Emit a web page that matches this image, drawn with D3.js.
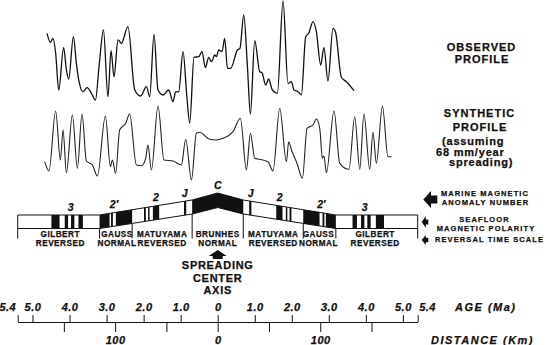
<!DOCTYPE html>
<html>
<head>
<meta charset="utf-8">
<script src="https://cdn.jsdelivr.net/npm/d3@7"></script>
<style>
  body { margin: 0; background: #fff; }
  svg { display: block; font-family: "Liberation Sans", Arial, sans-serif; }
  text { fill: #111; stroke: #111; stroke-width: 0.25; }
</style>
</head>
<body>
<svg id="chart" width="549" height="345"></svg>
<script>
// observed anomaly profile: [distance km, relative amplitude]
const observed = [
  [-166.4, 26.7], [-163.1, 17.7], [-160.6, 21.7], [-158.0, 7], [-155.0, -30], [-150.2, 12.3],
  [-147.5, -10], [-145.3, -19], [-140.7, 23.3], [-137.8, -3.3], [-135.2, -21.7], [-131.3, -31.7],
  [-127.4, -27.7], [-123.1, -33.3], [-119.2, -40], [-115.7, -6.7], [-111.4, 30], [-107.0, -36.7],
  [-104.0, 9.3], [-101.1, -16.7], [-97.2, 20], [-93.9, 16.7], [-87.5, 33.3], [-80.9, -30],
  [-75.1, -36], [-69.5, -26.7], [-66.3, -36.7], [-62.1, 25.7], [-58.2, -30], [-53.3, -35],
  [-47.8, -30], [-43.6, -41.7], [-41.0, -32], [-38.0, -31.7], [-33.8, 8.3], [-30.2, -35],
  [-27.3, -63], [-23.1, 2.7], [-18.5, 3.3], [-15.3, 8.3], [-12.0, -7.7], [-8.8, 2.7],
  [-6.1, -1.7], [-2.9, 5], [-1.3, 3.3], [1.0, 10], [4.2, 8.3], [6.8, 21.7], [9.5, -8.3],
  [12.7, -8.3], [19.2, 10], [21.7, 11.7], [25.4, 45], [29.0, -6.7], [31.9, -54], [36.1, 19.3],
  [41.0, -11.7], [43.2, -12.7], [46.8, -25], [49.7, -19], [53.3, -30], [58.2, -33.3],
  [63.7, 59], [68.5, -23.3], [71.9, -21.7], [74.4, -30], [78.3, -31.7], [81.6, -35],
  [85.8, 23.3], [88.7, 26.7], [92.9, 38.3], [96.2, 28.3], [100.4, -5], [103.6, 12.3],
  [107.5, -21], [112.4, 31.7], [114.8, 28.3], [120.6, -17.3], [125.5, -21.7], [132.9, -30.7]
];

// synthetic profile (68 mm/yr): [distance km, relative amplitude]
const synthetic = [
  [-168.7, -18.7], [-164.5, -28], [-158.0, 32], [-153.4, -17], [-150.8, 13], [-147.5, -29.7],
  [-141.7, 28], [-136.8, -25.3], [-132.3, 29], [-128.0, -18], [-122.2, -22], [-117.3, -33],
  [-109.5, 27], [-104.6, -23.7], [-102.7, -17], [-99.5, -30.3], [-95.6, 13], [-89.7, 19.7],
  [-85.8, 29], [-79.3, -22], [-74.4, -22.7], [-70.2, -15.3], [-68.0, -2], [-64.6, -27],
  [-58.2, 37], [-52.4, -17], [-43.6, -18], [-35.4, -22], [-31.2, 3.7], [-25.6, -37],
  [-20.8, 9.7], [-17.6, 10.7], [-7.8, 3.7], [-1.3, 3], [5.2, 4.7], [14.9, 11.3], [22.1, 24.7],
  [28.0, -27], [31.9, 9.7], [36.1, -15.3], [41.0, -16.3], [49.0, -18.7], [53.9, -28],
  [60.5, 34.7], [67.0, -18.7], [69.2, 1.3], [71.9, -7], [77.3, -20.3], [82.6, -35.3],
  [87.1, 14.7], [92.9, 18], [96.2, 24], [99.5, 14.7], [102.1, -15.3], [103.6, -13],
  [106.0, -29.7], [113.4, 32.3], [119.0, -20.3], [128.0, -26.3], [133.6, 26.3], [138.5, -26.3],
  [142.6, 29], [148.2, -26.3], [151.4, 10.7], [154.7, -20.3], [160.6, 37], [166.0, -13.7],
  [169.4, -13.7]
];

// normal polarity events inside reversed epochs (Ma), mirrored on both sides
const normalEvents = [
  [0.85, 0.91], [1.58, 1.75], [1.84, 1.88], [1.94, 1.99],
  [2.31, 2.75], [2.83, 2.88], [2.92, 3.19],
  [3.64, 3.76], [3.87, 3.96], [4.04, 4.13], [4.27, 4.49]
];
const brunhesEnd = 0.69;

const chronNames = ["BRUNHES", "MATUYAMA", "GAUSS", "GILBERT"];
const chronPolarity = ["NORMAL", "REVERSED", "NORMAL", "REVERSED"];
const chronEnds = [0.69, 2.31, 3.19, 5.4];
const chronLabelAt = [0, 1.5, 2.72, 4.25];

const anomalyNames = ["C", "J", "2", "2′", "3"];
const anomalyAges = [0, 0.89, 1.67, 2.8, 3.97];

const ageTicks = [-5.4, -5, -4, -3, -2, -1, 0, 1, 2, 3, 4, 5, 5.4];
const distTicks = [-150, -100, -50, 0, 50, 100, 150];
const distLabels = [-100, 0, 100];

const svg = d3.select("#chart");

const age = d3.scaleLinear().domain([-5.4, 5.4]).range([17.7, 417.7]);
const dist = d3.scaleLinear().domain([-195, 195]).range([17.7, 417.7]);
const yObs = d3.scaleLinear().domain([-63, 60]).range([123, 0]);
const ySyn = d3.scaleLinear().domain([-37, 37]).range([180, 106]);

// shape of the polarity band (raised toward the ridge)
const bandTop = d3.scaleLinear()
  .domain([-5.4, -3.19, -0.69, 0, 0.69, 3.19, 5.4])
  .range([215, 215, 200, 193, 200, 215, 215]);
const bandBot = d3.scaleLinear()
  .domain(bandTop.domain())
  .range([228.5, 228.5, 214, 207.5, 214, 228.5, 228.5]);

function bandShape(a, b) {
  const ts = [a, ...bandTop.domain().filter(k => k > a && k < b), b];
  const top = ts.map(t => [age(t), bandTop(t)]);
  const bot = ts.slice().reverse().map(t => [age(t), bandBot(t)]);
  return "M" + top.concat(bot).join("L") + "Z";
}

// profiles
const line = yS => d3.line().x(d => dist(d[0])).y(d => yS(d[1])).curve(d3.curveMonotoneX);

svg.append("path").datum(observed)
  .attr("d", line(yObs))
  .attr("fill", "none").attr("stroke", "#111").attr("stroke-width", 1.3)
  .attr("stroke-linejoin", "round");

svg.append("path").datum(synthetic)
  .attr("d", line(ySyn))
  .attr("fill", "none").attr("stroke", "#222").attr("stroke-width", 1.1);

// polarity band
svg.append("path").attr("d", bandShape(-5.4, 5.4)).attr("fill", "#fff");

const blocks = [[-brunhesEnd, brunhesEnd]];
normalEvents.forEach(([s, e]) => { blocks.push([-e, -s]); blocks.push([s, e]); });

svg.selectAll("path.normal").data(blocks).enter().append("path")
  .attr("class", "normal")
  .attr("d", d => bandShape(d[0], d[1]))
  .attr("fill", "#111");

svg.append("path").attr("d", bandShape(-5.4, 5.4))
  .attr("fill", "none").attr("stroke", "#111").attr("stroke-width", 1);

// chron dividers and names
const bounds = [];
chronEnds.forEach(e => { bounds.push(-e); bounds.push(e); });
svg.selectAll("line.divider").data(bounds).enter().append("line")
  .attr("x1", d => age(d)).attr("x2", d => age(d))
  .attr("y1", d => bandBot(d)).attr("y2", 238.5)
  .attr("stroke", "#111").attr("stroke-width", 1);

const chronLabels = [];
chronNames.forEach((n, i) => {
  const sides = i === 0 ? [0] : [-chronLabelAt[i], chronLabelAt[i]];
  sides.forEach(a => chronLabels.push({ name: n, pol: chronPolarity[i], at: a }));
});
const cl = svg.selectAll("g.chron").data(chronLabels).enter().append("g")
  .attr("font-size", 8.2).attr("font-weight", "bold").attr("letter-spacing", 0.5)
  .attr("text-anchor", "middle");
cl.append("text").attr("x", d => age(d.at)).attr("y", 237.3).text(d => d.name);
cl.append("text").attr("x", d => age(d.at)).attr("y", 245.8).text(d => d.pol);

// anomaly numbers
const anomalies = [];
anomalyNames.forEach((n, i) => {
  const sides = i === 0 ? [0] : [-anomalyAges[i], anomalyAges[i]];
  sides.forEach(a => anomalies.push({ name: n, at: a }));
});
svg.selectAll("text.anom").data(anomalies).enter().append("text")
  .attr("x", d => age(d.at)).attr("y", d => bandTop(d.at) - 4.5)
  .attr("text-anchor", "middle").attr("font-size", 10.5)
  .attr("font-weight", "bold").attr("font-style", "italic")
  .text(d => d.name);

// spreading center arrow and label
const ax = age(0);
svg.append("path")
  .attr("d", `M${ax - 9},256L${ax},250L${ax + 9},256L${ax + 5},256L${ax + 5},259L${ax - 5},259L${ax - 5},256Z`)
  .attr("fill", "#111");
svg.selectAll("text.axis-label").data(["SPREADING", "CENTER", "AXIS"]).enter().append("text")
  .attr("x", ax).attr("y", (d, i) => 269.3 + i * 12.4)
  .attr("text-anchor", "middle").attr("font-size", 11).attr("font-weight", "bold")
  .attr("letter-spacing", 0.7).text(d => d);

// age and distance axes
const axisY = 322;
const ageAxis = svg.append("g").attr("transform", `translate(0,${axisY})`)
  .call(d3.axisTop(age).tickValues(ageTicks).tickSize(7).tickSizeOuter(0).tickPadding(4)
    .tickFormat(d => d === 0 ? "0" : Math.abs(d).toFixed(1)));
const distAxis = svg.append("g").attr("transform", `translate(0,${axisY})`)
  .call(d3.axisBottom(dist).tickValues(distTicks).tickSize(10).tickPadding(4)
    .tickFormat(d => distLabels.includes(d) ? Math.abs(d) : ""));
distAxis.select(".domain").remove();

[ageAxis, distAxis].forEach(g => {
  g.selectAll("line, path").attr("stroke", "#111").attr("stroke-width", 1);
  g.selectAll("text").attr("font-family", "Liberation Sans, Arial, sans-serif")
    .attr("font-size", 11).attr("font-weight", "bold").attr("font-style", "italic")
    .attr("letter-spacing", 0.5).attr("fill", "#111");
});
ageAxis.selectAll(".tick text")
  .attr("text-anchor", d => d === -5.4 ? "end" : d === 5.4 ? "start" : "middle")
  .attr("dx", d => d === -5.4 ? -2 : d === 5.4 ? 1 : 0);

svg.append("text").attr("x", 455).attr("y", 311)
  .attr("font-size", 11).attr("font-weight", "bold").attr("font-style", "italic")
  .attr("letter-spacing", 1.5).text("AGE (Ma)");
svg.append("text").attr("x", 431).attr("y", 343.8)
  .attr("font-size", 11).attr("font-weight", "bold").attr("font-style", "italic")
  .attr("letter-spacing", 1.5).text("DISTANCE (Km)");

// profile names
const bigText = (x, y, s, anchor) => svg.append("text").attr("x", x).attr("y", y)
  .attr("text-anchor", anchor || "middle").attr("font-size", 11).attr("font-weight", "bold")
  .attr("letter-spacing", 1).text(s);
bigText(481.5, 50.7, "OBSERVED");
bigText(482, 63.3, "PROFILE");
bigText(479.5, 117.3, "SYNTHETIC");
bigText(480, 131, "PROFILE");
bigText(442, 145, "(assuming", "start").attr("letter-spacing", 0.8);
bigText(436, 155.5, "68 mm/year", "start").attr("letter-spacing", 0.8);
bigText(449, 166, "spreading)", "start").attr("letter-spacing", 0.8);

// legend for the band
const smallText = (x, y, s, anchor) => svg.append("text").attr("x", x).attr("y", y)
  .attr("text-anchor", anchor || "middle").attr("font-size", 7.5).attr("font-weight", "bold")
  .attr("letter-spacing", 1.1).text(s);
smallText(485, 196, "MARINE MAGNETIC");
smallText(485.5, 205, "ANOMALY NUMBER");
smallText(484.5, 222, "SEAFLOOR");
smallText(486, 230.7, "MAGNETIC POLARITY");
smallText(435, 242, "REVERSAL TIME SCALE", "start");

svg.append("path").attr("d", "M423.3,199.5L431,191L431,195.5L437.3,195.5L437.3,203.5L431,203.5L431,208Z").attr("fill", "#111");
svg.append("path").attr("d", "M421.7,222L425.8,216L425.8,219.5L428.3,219.5L428.3,224.5L425.8,224.5L425.8,228Z").attr("fill", "#111");
svg.append("path").attr("d", "M421.7,240L425.8,235L425.8,237.8L428.3,237.8L428.3,242.2L425.8,242.2L425.8,245Z").attr("fill", "#111");
</script>
</body>
</html>
